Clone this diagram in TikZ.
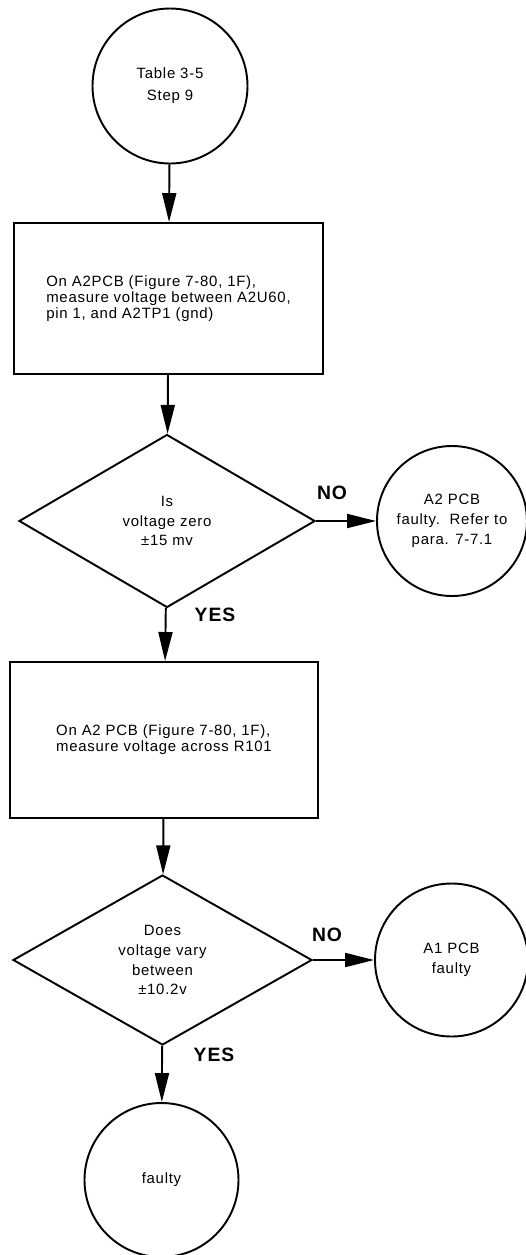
\documentclass[tikz,border=0pt]{standalone}
\usepackage{fontspec}
\setmainfont{Liberation Sans}[LetterSpace=5.0]
\usepackage{tikz}
\usetikzlibrary{arrows.meta, positioning, shapes.geometric}

\begin{document}
\begin{tikzpicture}[
    term/.style={draw, circle, line width=1.1pt, minimum size=3.1cm, inner sep=0pt, align=center, font=\fontsize{8.5}{11.3}\selectfont},
    proc/.style={draw, rectangle, line width=1.1pt, align=left, font=\fontsize{8.5}{9.2}\selectfont},
    test/.style={draw, diamond, aspect=1.72, line width=1.1pt, inner sep=0pt, align=center, font=\fontsize{8.5}{11.3}\selectfont},
    answer/.style={font=\fontsize{11}{13}\selectfont\bfseries},
    arr/.style={line width=1.1pt, -{Triangle[length=5.8mm, width=2.8mm]}}
]
\useasboundingbox (0,0) rectangle (10.5,-25.1);

% Entry
\node[term, font=\fontsize{8.5}{12.5}\selectfont] (start) at (3.40,-1.72) {Table 3-5\\Step 9};

% First check
\node[proc, minimum width=6.18cm, minimum height=3.02cm] (box1) at (3.37,-5.97)
    {On A2PCB (Figure 7-80, 1F),\\measure voltage between A2U60,\\pin 1, and A2TP1 (gnd)};
\node[test, minimum width=5.92cm, minimum height=3.46cm] (dec1) at (3.34,-10.42)
    {Is\\voltage zero\\±15 mv};
\node[term, minimum size=3.0cm] (fail1) at (9.04,-10.42) {A2 PCB\\faulty.\ \ Refer to\\para. 7-7.1};

% Second check
\node[proc, minimum width=6.16cm, minimum height=3.12cm] (box2) at (3.28,-14.80)
    {On A2 PCB (Figure 7-80, 1F),\\measure voltage across R101};
\node[test, minimum width=5.98cm, minimum height=3.40cm] (dec2) at (3.25,-19.20)
    {Does\\voltage vary\\between\\±10.2v};
\node[term, minimum size=3.06cm] (fail2) at (9.03,-19.20) {A1 PCB\\faulty};

% Exit
\node[term, minimum size=3.08cm] (endc) at (3.23,-23.60) {faulty};

% Flow arrows
\draw[arr] (start) -- (box1);
\draw[arr] (box1) -- (dec1);
\draw[arr] (dec1) -- (fail1);
\draw[arr] (dec1) -- (box2);
\draw[arr] (box2) -- (dec2);
\draw[arr] (dec2) -- (fail2);
\draw[arr] (dec2) -- (endc);

% Answer labels
\node[answer] (no1) at (6.64,-9.86) {NO};
\node[answer] (yes1) at (4.30,-12.30) {YES};
\node[answer] (no2) at (6.54,-18.70) {NO};
\node[answer] (yes2) at (4.28,-21.10) {YES};

\end{tikzpicture}
\end{document}
